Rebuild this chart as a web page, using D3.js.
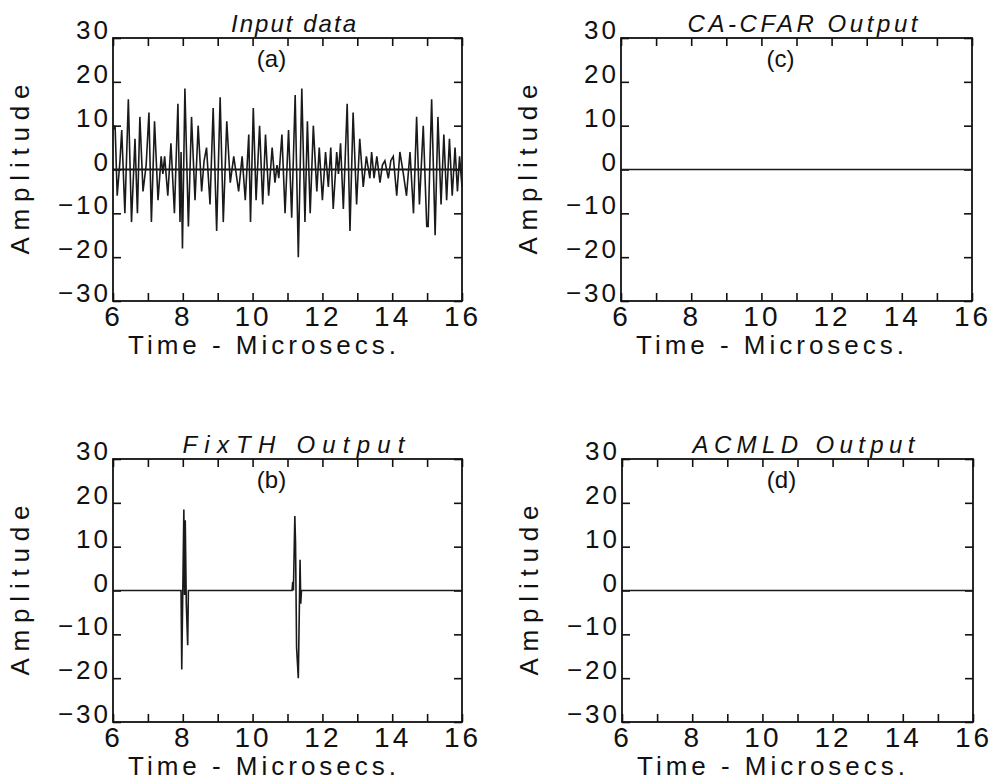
<!DOCTYPE html>
<html>
<head>
<meta charset="utf-8">
<script src="https://cdn.jsdelivr.net/npm/d3@7"></script>
<style>
  body { margin: 0; background: #fff; }
  svg { display: block; }
  text { font-family: "Liberation Sans", Arial, sans-serif; fill: #111; }
</style>
</head>
<body>
<div id="chart"></div>
<script>
// input data (a), time in microseconds
const inputTime = [6.00, 6.06, 6.12, 6.20, 6.25, 6.34, 6.44, 6.53, 6.63, 6.70, 6.77, 6.86, 6.95,
  7.03, 7.10, 7.19, 7.29, 7.38, 7.43, 7.48, 7.57, 7.66, 7.76, 7.86, 7.92, 7.95, 7.99,
  8.06, 8.16, 8.25, 8.35, 8.44, 8.54, 8.61, 8.68, 8.78, 8.87, 8.97,
  9.07, 9.16, 9.26, 9.36, 9.46, 9.53, 9.60, 9.70, 9.79, 9.89, 9.94,
  10.02, 10.10, 10.20, 10.29, 10.37, 10.46, 10.56, 10.64, 10.70, 10.75, 10.84, 10.93,
  11.03, 11.12, 11.22, 11.31, 11.41, 11.50, 11.57, 11.65, 11.74, 11.84, 11.91,
  12.00, 12.09, 12.17, 12.24, 12.31, 12.41, 12.46, 12.52, 12.60, 12.71, 12.79, 12.88, 12.98,
  13.07, 13.17, 13.26, 13.36, 13.41, 13.48, 13.56, 13.65, 13.72, 13.79, 13.89, 13.96,
  14.03, 14.13, 14.22, 14.32, 14.41, 14.51, 14.61, 14.70, 14.78, 14.89, 14.99,
  15.03, 15.13, 15.23, 15.31, 15.40, 15.48, 15.56, 15.64, 15.72, 15.80, 15.87, 15.93, 16.00];
const inputAmp = [9, 10, -6, 2, 9, -10, 16, -12, 7, -10, 12, -5, 1,
  13, -12, 11, -7, 3, -1, 3, -6, 6, -10, 15, -12, 4, -18,
  18.5, -13, 12, -7, 10, -5, 2, 5, -8, 14, -14,
  16.5, -12, 11, -3, 3, -1, -5, 3, -7, 8, -12,
  14, -7, 10, -8, 8, -6, 5, -3, 1, -2, 8, -10,
  9, -11, 17, -20, 18.5, -12, 11, -10, 10, -5, 5,
  -7, 4, -4, 5, -9, 4, -1, 6, -9, 15, -14, 13, -8,
  7, -4, 3, -2, 4, -2, 3, -3, 1, 2, -2, 2,
  3, -6, 4, -1, -6, 4, -10, 12, -8, 10, -13,
  -13, 16, -15, 12, -8, 8, -7, 7, -6, 5, -5, 3, -4];

// FixTH output (b)
const fixthTime = [6, 7.95, 7.97, 8.01, 8.03, 8.05, 8.07, 8.10, 8.14, 8.16,
  11.13, 11.15, 11.17, 11.21, 11.23, 11.26, 11.31, 11.36, 11.38, 11.40, 16];
const fixthAmp = [0, 0, -18, 6, 18.5, -1, 16, -3, -12.5, 0,
  0, 2, 0, 17, 11, -13, -20, 7, -3, 0, 0];

// CA-CFAR output (c) and ACMLD output (d): nothing passes
const cacfarTime = [6, 16];
const cacfarAmp = [0, 0];
const acmldTime = [6, 16];
const acmldAmp = [0, 0];

const xTicks = d3.range(6, 17, 1);
const xLabels = [6, 8, 10, 12, 14, 16];
const yTicks = [-30, -20, -10, 0, 10, 20, 30];

const panels = [
  { title: "Input data", tag: "(a)", t: inputTime, v: inputAmp,
    left: 113, top: 38, w: 349, h: 263, zero: true, titleW: 125 },
  { title: "CA-CFAR Output", tag: "(c)", t: cacfarTime, v: cacfarAmp,
    left: 621, top: 38, w: 351, h: 263, titleW: 230 },
  { title: "FixTH Output", tag: "(b)", t: fixthTime, v: fixthAmp,
    left: 113, top: 459, w: 349, h: 263, titleW: 222 },
  { title: "ACMLD Output", tag: "(d)", t: acmldTime, v: acmldAmp,
    left: 622, top: 459, w: 351, h: 263, titleW: 222 }
];

const svg = d3.select("#chart").append("svg")
  .attr("width", 992)
  .attr("height", 783);

panels.forEach(p => {
  const g = svg.append("g").attr("transform", `translate(${p.left},${p.top})`);

  const x = d3.scaleLinear().domain([6, 16]).range([0, p.w]);
  const y = d3.scaleLinear().domain([-30, 30]).range([p.h, 0]);

  // inward ticks on all four sides
  const bottom = g.append("g")
    .attr("transform", `translate(0,${p.h})`)
    .call(d3.axisBottom(x).tickValues(xTicks).tickSize(-8).tickSizeOuter(0).tickPadding(4)
      .tickFormat(d => xLabels.includes(d) ? d : ""));
  bottom.selectAll("text")
    .attr("font-size", 28)
    .attr("letter-spacing", 3)
    .attr("dy", "0.76em");

  g.append("g")
    .call(d3.axisTop(x).tickValues(xTicks).tickSize(-8).tickSizeOuter(0).tickFormat(""));

  const left = g.append("g")
    .call(d3.axisLeft(y).tickValues(yTicks).tickSize(-8).tickSizeOuter(0).tickPadding(2)
      .tickFormat(d => d3.format("d")(d).replace("-", "−")));
  left.selectAll("text")
    .attr("font-size", 26)
    .attr("letter-spacing", 3)
    .attr("dy", "0.02em");

  g.append("g")
    .attr("transform", `translate(${p.w},0)`)
    .call(d3.axisRight(y).tickValues(yTicks).tickSize(-8).tickSizeOuter(0).tickFormat(""));

  g.selectAll(".domain").remove();
  g.selectAll(".tick line").attr("stroke", "#111").attr("stroke-width", 1.6);

  g.append("rect")
    .attr("width", p.w).attr("height", p.h)
    .attr("fill", "none").attr("stroke", "#111").attr("stroke-width", 1.8);

  // signal
  const pts = p.t.map((t, i) => [t, p.v[i]]);
  if (p.zero) {
    g.append("line")
      .attr("x1", x(6)).attr("x2", x(16))
      .attr("y1", y(0)).attr("y2", y(0))
      .attr("stroke", "#111").attr("stroke-width", 2.2);
  }
  g.append("path")
    .datum(pts)
    .attr("fill", "none")
    .attr("stroke", "#1a1a1a")
    .attr("stroke-width", 1.6)
    .attr("d", d3.line().x(d => x(d[0])).y(d => y(d[1])));

  // titles and labels
  g.append("text")
    .attr("x", p.w / 2 - p.titleW / 2 + 6)
    .attr("y", -6)
    .attr("font-size", 24)
    .attr("font-style", "italic")
    .attr("textLength", p.titleW)
    .attr("lengthAdjust", "spacing")
    .text(p.title);

  g.append("text")
    .attr("x", p.w / 2 - 16)
    .attr("y", 29)
    .attr("text-anchor", "middle")
    .attr("font-size", 24)
    .text(p.tag);

  g.append("text")
    .attr("x", 15)
    .attr("y", p.h + 53)
    .attr("font-size", 26)
    .attr("textLength", 268)
    .attr("lengthAdjust", "spacing")
    .text("Time - Microsecs.");

  g.append("text")
    .attr("transform", `translate(-84,${p.h / 2 + 85}) rotate(-90)`)
    .attr("font-size", 26)
    .attr("textLength", 170)
    .attr("lengthAdjust", "spacing")
    .text("Amplitude");
});
</script>
</body>
</html>
